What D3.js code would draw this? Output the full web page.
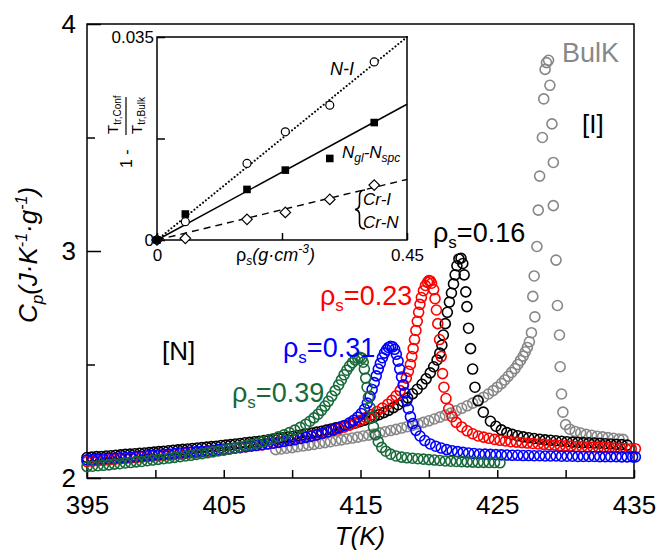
<!DOCTYPE html>
<html><head><meta charset="utf-8">
<script src="https://cdn.jsdelivr.net/npm/d3@7"></script>
<style>body{margin:0;background:#fff}svg{display:block}</style>
</head><body><svg id="c" width="660" height="551"></svg>
<script>
// ---------- DATA ----------
const xTickValues = [395,400,405,410,415,420,425,430,435];
const xTickLabels = [395,405,415,425,435];
const yMajorTicks = [2,3,4];
const yMinorTicks = [2.5,3.5];

const bulk = [[408.8,2.125],[409.2,2.128],[409.6,2.131],[410.0,2.134],[410.4,2.138],[410.8,2.141],[411.2,2.145],[411.6,2.148],[412.0,2.152],[412.4,2.156],[412.8,2.160],[413.2,2.164],[413.6,2.168],[414.0,2.172],[414.4,2.176],[414.8,2.180],[415.2,2.185],[415.6,2.189],[416.0,2.194],[416.4,2.199],[416.8,2.204],[417.2,2.209],[417.6,2.214],[418.0,2.220],[418.4,2.226],[418.8,2.232],[419.2,2.238],[419.6,2.245],[420.0,2.252],[420.4,2.260],[420.8,2.268],[421.2,2.277],[421.6,2.286],[422.0,2.296],[422.4,2.307],[422.8,2.318],[423.2,2.330],[423.6,2.343],[424.0,2.356],[424.35,2.370],[424.7,2.385],[425.0,2.400],[425.3,2.416],[425.55,2.432],[425.8,2.448],[426.05,2.465],[426.3,2.482],[426.5,2.500],[426.7,2.518],[426.9,2.537],[427.05,2.556],[427.2,2.575],[427.35,2.600],[427.5,2.640],[427.75,2.710],[427.6,2.800],[427.7,2.890],[427.9,3.020],[428.0,3.180],[428.1,3.330],[428.3,3.500],[428.4,3.670],[428.5,3.800],[428.6,3.830],[428.75,3.840],[428.85,3.730],[429.0,3.560],[429.1,3.390],[429.1,3.200],[429.3,2.960],[429.4,2.760],[429.55,2.630],[429.6,2.490],[429.7,2.370],[429.8,2.290],[430.0,2.235],[430.3,2.215],[430.7,2.205],[431.1,2.198],[431.5,2.192],[431.9,2.188],[432.3,2.184],[432.7,2.181],[433.1,2.178],[433.5,2.175],[433.9,2.172],[434.2,2.170]];

const rho016 = [[395.0,2.090],[395.35,2.092],[395.7,2.094],[396.05,2.095],[396.4,2.097],[396.75,2.098],[397.1,2.100],[397.45,2.102],[397.8,2.104],[398.15,2.105],[398.5,2.107],[398.85,2.109],[399.2,2.110],[399.55,2.112],[399.9,2.114],[400.25,2.116],[400.6,2.118],[400.95,2.120],[401.3,2.122],[401.65,2.124],[402.0,2.126],[402.35,2.128],[402.7,2.130],[403.05,2.132],[403.4,2.134],[403.75,2.136],[404.1,2.138],[404.45,2.140],[404.8,2.143],[405.15,2.145],[405.5,2.147],[405.85,2.150],[406.2,2.152],[406.55,2.155],[406.9,2.157],[407.25,2.160],[407.6,2.162],[407.95,2.165],[408.3,2.168],[408.65,2.171],[409.0,2.174],[409.35,2.177],[409.7,2.180],[410.05,2.183],[410.4,2.187],[410.75,2.190],[411.1,2.194],[411.45,2.198],[411.8,2.202],[412.15,2.206],[412.5,2.211],[412.85,2.216],[413.2,2.221],[413.55,2.226],[413.9,2.231],[414.25,2.236],[414.6,2.242],[414.95,2.248],[415.3,2.255],[415.65,2.262],[416.0,2.270],[416.35,2.279],[416.7,2.288],[417.05,2.298],[417.4,2.310],[417.75,2.323],[418.1,2.337],[418.45,2.353],[418.8,2.371],[419.15,2.391],[419.5,2.413],[419.8,2.437],[420.1,2.463],[420.35,2.490],[420.6,2.520],[420.8,2.550],[420.95,2.585],[421.06,2.630],[421.2,2.680],[421.35,2.730],[421.5,2.775],[421.65,2.815],[421.8,2.855],[421.92,2.895],[422.05,2.935],[422.2,2.965],[422.35,2.968],[422.48,2.945],[422.58,2.895],[422.7,2.820],[422.78,2.755],[422.9,2.660],[423.05,2.570],[423.2,2.480],[423.37,2.400],[423.6,2.340],[423.98,2.290],[424.5,2.250],[424.9,2.228],[425.3,2.212],[425.7,2.200],[426.1,2.192],[426.5,2.186],[426.9,2.181],[427.3,2.177],[427.7,2.174],[428.1,2.171],[428.5,2.168],[428.9,2.166],[429.3,2.164],[429.7,2.162],[430.1,2.160],[430.5,2.158],[430.9,2.157],[431.3,2.156],[431.7,2.155],[432.1,2.154],[432.5,2.153],[432.9,2.151],[433.3,2.150],[433.7,2.148],[434.1,2.147],[434.5,2.145]];

const rho023 = [[395.0,2.072],[395.4,2.074],[395.8,2.076],[396.2,2.078],[396.6,2.080],[397.0,2.082],[397.4,2.084],[397.8,2.086],[398.2,2.088],[398.6,2.090],[399.0,2.092],[399.4,2.094],[399.8,2.096],[400.2,2.098],[400.6,2.100],[401.0,2.102],[401.4,2.104],[401.8,2.106],[402.2,2.108],[402.6,2.111],[403.0,2.113],[403.4,2.115],[403.8,2.118],[404.2,2.120],[404.6,2.123],[405.0,2.125],[405.4,2.128],[405.8,2.131],[406.2,2.134],[406.6,2.137],[407.0,2.140],[407.4,2.143],[407.8,2.146],[408.2,2.150],[408.6,2.154],[409.0,2.158],[409.4,2.162],[409.8,2.166],[410.2,2.170],[410.6,2.175],[411.0,2.180],[411.4,2.185],[411.8,2.190],[412.2,2.196],[412.6,2.202],[413.0,2.209],[413.4,2.216],[413.8,2.224],[414.2,2.233],[414.6,2.243],[415.0,2.254],[415.4,2.266],[415.8,2.279],[416.2,2.293],[416.6,2.308],[417.0,2.325],[417.3,2.342],[417.6,2.362],[417.9,2.385],[418.15,2.410],[418.35,2.440],[418.5,2.470],[418.65,2.500],[418.75,2.535],[418.85,2.570],[418.95,2.610],[419.05,2.650],[419.15,2.690],[419.25,2.730],[419.35,2.765],[419.45,2.795],[419.6,2.825],[419.75,2.848],[419.9,2.862],[420.0,2.870],[420.1,2.868],[420.2,2.858],[420.35,2.830],[420.45,2.790],[420.55,2.740],[420.65,2.680],[420.78,2.610],[420.9,2.535],[421.0,2.460],[421.1,2.400],[421.25,2.350],[421.45,2.305],[421.7,2.270],[422.0,2.245],[422.4,2.225],[422.8,2.208],[423.2,2.195],[423.6,2.185],[424.0,2.180],[424.4,2.175],[424.8,2.170],[425.2,2.166],[425.6,2.163],[426.0,2.160],[426.4,2.158],[426.8,2.156],[427.2,2.154],[427.6,2.152],[428.0,2.150],[428.4,2.148],[428.8,2.146],[429.2,2.145],[429.6,2.143],[430.0,2.142],[430.4,2.141],[430.8,2.139],[431.2,2.138],[431.6,2.137],[432.0,2.136],[432.4,2.135],[432.8,2.134],[433.2,2.133],[433.6,2.132],[434.0,2.131],[434.4,2.130],[434.8,2.129],[435.1,2.129]];

const rho031 = [[395.0,2.080],[395.4,2.081],[395.8,2.083],[396.2,2.084],[396.6,2.086],[397.0,2.087],[397.4,2.089],[397.8,2.090],[398.2,2.092],[398.6,2.094],[399.0,2.096],[399.4,2.098],[399.8,2.100],[400.2,2.102],[400.6,2.104],[401.0,2.106],[401.4,2.108],[401.8,2.110],[402.2,2.112],[402.6,2.114],[403.0,2.116],[403.4,2.118],[403.8,2.120],[404.2,2.122],[404.6,2.125],[405.0,2.127],[405.4,2.130],[405.8,2.132],[406.2,2.135],[406.6,2.138],[407.0,2.141],[407.4,2.144],[407.8,2.147],[408.2,2.150],[408.6,2.153],[409.0,2.157],[409.4,2.161],[409.8,2.165],[410.2,2.169],[410.6,2.174],[411.0,2.179],[411.4,2.184],[411.8,2.190],[412.2,2.197],[412.6,2.204],[413.0,2.212],[413.4,2.221],[413.8,2.231],[414.2,2.243],[414.5,2.254],[414.8,2.268],[415.05,2.284],[415.3,2.304],[415.5,2.330],[415.7,2.360],[415.85,2.390],[416.0,2.420],[416.15,2.450],[416.3,2.480],[416.45,2.505],[416.6,2.530],[416.75,2.550],[416.9,2.565],[417.05,2.575],[417.2,2.580],[417.35,2.578],[417.5,2.567],[417.62,2.545],[417.75,2.515],[417.87,2.480],[418.0,2.445],[418.12,2.410],[418.25,2.375],[418.38,2.340],[418.5,2.305],[418.65,2.270],[418.82,2.240],[419.05,2.210],[419.35,2.185],[419.7,2.165],[420.1,2.150],[420.5,2.140],[420.9,2.132],[421.3,2.125],[421.7,2.120],[422.1,2.116],[422.5,2.113],[422.9,2.110],[423.3,2.108],[423.7,2.106],[424.1,2.105],[424.5,2.104],[424.9,2.103],[425.3,2.102],[425.7,2.101],[426.1,2.100],[426.5,2.100],[426.9,2.099],[427.3,2.099],[427.7,2.098],[428.1,2.098],[428.5,2.097],[428.9,2.097],[429.3,2.097],[429.7,2.096],[430.1,2.096],[430.5,2.096],[430.9,2.095],[431.3,2.095],[431.7,2.095],[432.1,2.095],[432.5,2.094],[432.9,2.094],[433.3,2.094],[433.7,2.094],[434.1,2.093],[434.5,2.093],[434.9,2.093],[435.1,2.093]];

const rho039 = [[395.0,2.050],[395.4,2.052],[395.8,2.054],[396.2,2.056],[396.6,2.058],[397.0,2.061],[397.4,2.063],[397.8,2.066],[398.2,2.068],[398.6,2.071],[399.0,2.073],[399.4,2.076],[399.8,2.079],[400.2,2.082],[400.6,2.085],[401.0,2.088],[401.4,2.091],[401.8,2.094],[402.2,2.097],[402.6,2.100],[403.0,2.104],[403.4,2.107],[403.8,2.111],[404.2,2.115],[404.6,2.119],[405.0,2.123],[405.4,2.127],[405.8,2.132],[406.2,2.137],[406.6,2.142],[407.0,2.147],[407.4,2.153],[407.8,2.159],[408.2,2.166],[408.6,2.173],[409.0,2.181],[409.4,2.190],[409.8,2.200],[410.2,2.211],[410.6,2.223],[411.0,2.237],[411.3,2.250],[411.6,2.265],[411.9,2.281],[412.15,2.298],[412.4,2.317],[412.65,2.338],[412.9,2.361],[413.15,2.385],[413.4,2.410],[413.6,2.432],[413.8,2.455],[414.0,2.475],[414.2,2.493],[414.4,2.508],[414.6,2.520],[414.8,2.528],[414.95,2.532],[415.1,2.528],[415.2,2.510],[415.28,2.480],[415.38,2.440],[415.48,2.400],[415.58,2.355],[415.7,2.310],[415.82,2.265],[415.95,2.225],[416.1,2.190],[416.3,2.160],[416.55,2.135],[416.85,2.118],[417.2,2.105],[417.6,2.097],[418.0,2.092],[418.4,2.089],[418.8,2.087],[419.2,2.085],[419.6,2.083],[420.0,2.081],[420.4,2.079],[420.8,2.077],[421.2,2.075],[421.6,2.074],[422.0,2.073],[422.4,2.072],[422.8,2.071],[423.2,2.070],[423.6,2.069],[424.0,2.069],[424.4,2.068],[424.8,2.068],[425.2,2.067]];

// inset data: rho_s vs 1 - Ttr,conf/Ttr,bulk
const insetRho = [0, 0.051, 0.162, 0.231, 0.311, 0.391];
const insetNI  = [0, 0.00316, 0.0132, 0.01865, 0.02324, 0.0307];
const insetNgl = [0, 0.00448, 0.00872, 0.01205, 0.01406, 0.02025];
const insetCr  = [0, 0.00029, 0.00356, 0.00476, 0.0070, 0.00947];
const fitNI  = [[0,0],[0.45,0.035]];
const fitNgl = [[0,0],[0.45,0.0234]];
const fitCr  = [[0,0],[0.45,0.01044]];

// ---------- DRAW ----------
const FONT = "Arial, 'Liberation Sans', Helvetica, sans-serif";
const svg = d3.select("#c");
const x = d3.scaleLinear().domain([395,435]).range([87,634]);
const y = d3.scaleLinear().domain([2,4]).range([478,24]);

function styleAxis(g, fs){
  g.attr("font-size", fs).attr("font-family", FONT);
  g.select(".domain").remove();
  g.selectAll("line").attr("stroke","#000").attr("stroke-width",1.5);
  g.selectAll("text").attr("fill","#000");
}
const gx = svg.append("g").attr("transform","translate(0,478)")
  .call(d3.axisBottom(x).tickValues(xTickValues).tickSizeInner(-8).tickSizeOuter(0).tickPadding(18)
    .tickFormat(d => xTickLabels.includes(d) ? String(d) : ""));
styleAxis(gx, 26);
const gy = svg.append("g").attr("transform","translate(87,0)")
  .call(d3.axisLeft(y).tickValues(yMajorTicks).tickSizeInner(-14).tickSizeOuter(0).tickPadding(11)
    .tickFormat(d3.format("d")));
styleAxis(gy, 26);
const gy2 = svg.append("g").attr("transform","translate(87,0)")
  .call(d3.axisLeft(y).tickValues(yMinorTicks).tickSizeInner(-8).tickSizeOuter(0).tickFormat(""));
styleAxis(gy2, 26);

svg.append("rect").attr("x",x(395)).attr("y",y(4)).attr("width",x(435)-x(395)).attr("height",y(2)-y(4))
  .attr("fill","none").attr("stroke","#000").attr("stroke-width",1.5);

const series = [
  {data: bulk, color: "#878787"},
  {data: rho016, color: "#000000"},
  {data: rho023, color: "#ff0000"},
  {data: rho031, color: "#0000ff"},
  {data: rho039, color: "#17693a"}
];
series.forEach(s => {
  svg.append("g").selectAll("circle").data(s.data).join("circle")
    .attr("cx", d => x(d[0])).attr("cy", d => y(d[1])).attr("r", 5)
    .attr("fill","none").attr("stroke", s.color).attr("stroke-width",1.6);
});

// axis titles
svg.append("text").attr("x",360).attr("y",545).attr("text-anchor","middle")
  .attr("font-family",FONT).attr("font-size",26).attr("font-style","italic").text("T(K)");
const yl = svg.append("text").attr("transform","translate(37,255) rotate(-90)").attr("text-anchor","middle")
  .attr("font-family",FONT).attr("font-size",26).attr("font-style","italic");
yl.append("tspan").text("C");
yl.append("tspan").attr("font-size",17).attr("dy",6).text("p");
yl.append("tspan").attr("dy",-6).text("(J·K");
yl.append("tspan").attr("font-size",16).attr("dy",-10).text("-1");
yl.append("tspan").attr("dy",10).text("·g");
yl.append("tspan").attr("font-size",16).attr("dy",-10).text("-1");
yl.append("tspan").attr("dy",10).text(")");

// labels
function rhoLabel(xp, yp, val, color){
  const t = svg.append("text").attr("x",xp).attr("y",yp).attr("font-family",FONT).attr("font-size",27).attr("fill",color);
  t.append("tspan").text("ρ");
  t.append("tspan").attr("font-size",17).attr("dy",6).text("s");
  t.append("tspan").attr("dy",-6).text("=" + val);
}
rhoLabel(433,242,"0.16","#000");
rhoLabel(320,305,"0.23","#ff0000");
rhoLabel(283,357,"0.31","#0000ff");
rhoLabel(232,402,"0.39","#17693a");
svg.append("text").attr("x",162).attr("y",360).attr("font-family",FONT).attr("font-size",26).text("[N]");
svg.append("text").attr("x",582).attr("y",133).attr("font-family",FONT).attr("font-size",26).text("[I]");
svg.append("text").attr("x",562).attr("y",62).attr("font-family",FONT).attr("font-size",27).attr("fill","#888").text("BulK");

// ---------- INSET ----------
const ix = d3.scaleLinear().domain([0,0.45]).range([157,407]);
const iy = d3.scaleLinear().domain([0,0.035]).range([240,37]);
const ins = svg.append("g");
ins.append("rect").attr("x",ix(0)).attr("y",iy(0.035)).attr("width",ix(0.45)-ix(0)).attr("height",iy(0)-iy(0.035))
  .attr("fill","#fff").attr("stroke","none");
const igx = ins.append("g").attr("transform",`translate(0,${iy(0)})`)
  .call(d3.axisBottom(ix).tickValues([0,0.225,0.45]).tickSizeInner(-7).tickSizeOuter(0).tickPadding(9)
    .tickFormat(d => d===0.225 ? "" : (d===0 ? "0" : "0.45")));
styleAxis(igx, 17);
const igy = ins.append("g").attr("transform",`translate(${ix(0)},0)`)
  .call(d3.axisLeft(iy).tickValues([0,0.0175,0.035]).tickSizeInner(-8).tickSizeOuter(0).tickPadding(3)
    .tickFormat(d => d===0.0175 ? "" : (d===0 ? "0" : "0.035")));
styleAxis(igy, 17);
ins.append("rect").attr("x",ix(0)).attr("y",iy(0.035)).attr("width",ix(0.45)-ix(0)).attr("height",iy(0)-iy(0.035))
  .attr("fill","none").attr("stroke","#000").attr("stroke-width",1.5);

const line = d3.line().x(d => ix(d[0])).y(d => iy(d[1]));
ins.append("path").attr("d",line(fitCr)).attr("fill","none").attr("stroke","#000").attr("stroke-width",1.4).attr("stroke-dasharray","7,5");
ins.append("path").attr("d",line(fitNI)).attr("fill","none").attr("stroke","#000").attr("stroke-width",2).attr("stroke-linecap","round").attr("stroke-dasharray","0.1,3.6");
ins.append("path").attr("d",line(fitNgl)).attr("fill","none").attr("stroke","#000").attr("stroke-width",1.5);

ins.append("g").selectAll("path").data(insetRho.map((r,i)=>[r,insetCr[i]])).join("path")
  .attr("d", d3.symbol(d3.symbolDiamond2, 70)).attr("transform", d => `translate(${ix(d[0])},${iy(d[1])})`)
  .attr("fill","#fff").attr("stroke","#000").attr("stroke-width",1.2);
ins.append("g").selectAll("circle").data(insetRho.map((r,i)=>[r,insetNI[i]])).join("circle")
  .attr("cx", d => ix(d[0])).attr("cy", d => iy(d[1])).attr("r",4)
  .attr("fill","#fff").attr("stroke","#000").attr("stroke-width",1.2);
ins.append("g").selectAll("rect").data(insetRho.map((r,i)=>[r,insetNgl[i]])).join("rect")
  .attr("x", d => ix(d[0])-3.8).attr("y", d => iy(d[1])-3.8).attr("width",7.6).attr("height",7.6).attr("fill","#000");

function itext(xp, yp, fs, italic){
  return ins.append("text").attr("x",xp).attr("y",yp).attr("font-family",FONT).attr("font-size",fs)
    .attr("font-style", italic ? "italic" : "normal");
}
itext(330,75,18,true).text("N-I");
const ng = itext(342,158,17,true);
ng.append("tspan").text("N");
ng.append("tspan").attr("font-size",12).attr("dy",4).text("gl");
ng.append("tspan").attr("dy",-4).text("-N");
ng.append("tspan").attr("font-size",12).attr("dy",4).text("spc");
itext(363,205,17,true).text("Cr-I");
itext(363,228,17,true).text("Cr-N");
// curly brace grouping the Cr-I / Cr-N labels
const bp = d3.path();
bp.moveTo(365,190); bp.quadraticCurveTo(359.5,190,359.5,196);
bp.lineTo(359.5,204); bp.quadraticCurveTo(359.5,209,355,209.5);
bp.quadraticCurveTo(359.5,210,359.5,215); bp.lineTo(359.5,223);
bp.quadraticCurveTo(359.5,229,365,229);
ins.append("path").attr("d",bp.toString()).attr("fill","none").attr("stroke","#000").attr("stroke-width",1.6);

const xl = itext(236,261,18,false);
xl.append("tspan").text("ρ");
xl.append("tspan").attr("font-size",12).attr("dy",4).attr("font-style","italic").text("s");
xl.append("tspan").attr("dy",-4).attr("font-style","italic").text("(g·cm");
xl.append("tspan").attr("font-size",12).attr("dy",-8).attr("font-style","italic").text("-3");
xl.append("tspan").attr("dy",8).attr("font-style","italic").text(")");

const yg = ins.append("g").attr("transform","translate(126,128) rotate(-90)").attr("font-family",FONT);
yg.append("text").attr("x",-40).attr("y",6).attr("font-size",16).text("1 -");
yg.append("line").attr("x1",-7).attr("x2",31).attr("y1",0).attr("y2",0).attr("stroke","#000").attr("stroke-width",1.2);
const num = yg.append("text").attr("x",-6).attr("y",-8).attr("font-size",15);
num.append("tspan").text("T");
num.append("tspan").attr("font-size",10).attr("dy",3).text("tr,Conf");
const den = yg.append("text").attr("x",-6).attr("y",16).attr("font-size",15);
den.append("tspan").text("T");
den.append("tspan").attr("font-size",10).attr("dy",3).text("tr,Bulk");
</script></body></html>
